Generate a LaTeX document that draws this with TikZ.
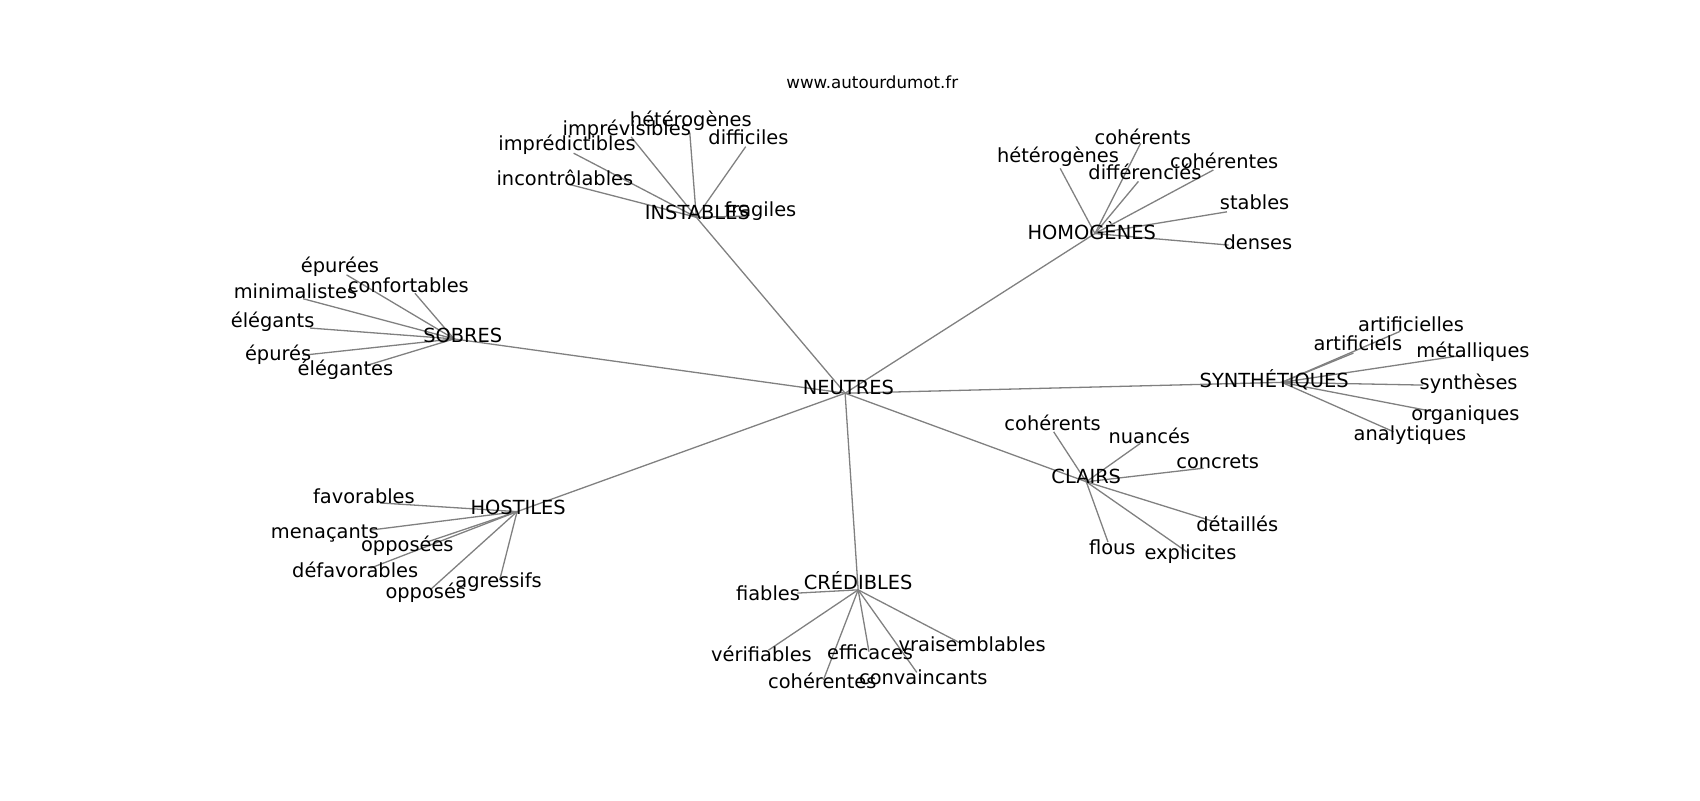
\documentclass[tikz,border=0pt]{standalone}
\usepackage{fontspec}
\setmainfont{DejaVu Sans}
\pgfdeclarelayer{bg}
\pgfsetlayers{bg,main}
\begin{document}
\begin{tikzpicture}[x=1.086pt,y=-1.086pt,
  lbl/.style={inner sep=0pt,font=\fontsize{19.4}{22}\selectfont,text height=0.78em,text depth=0.16em,text=black},
  ttl/.style={inner sep=0pt,font=\fontsize{16.7}{19}\selectfont,text=black},
  edge/.style={draw=black!50,line width=1.3pt}]
\useasboundingbox (0,0) rectangle (1565,737);
\node[ttl] (title) at (803,76) {www.autourdumot.fr};
% hubs
\node[lbl] (neu) at (781,360) {NEUTRES};
\node[lbl] (ins) at (642,199) {INSTABLES};
\node[lbl] (hom) at (1005,218) {HOMOGÈNES};
\node[lbl] (sob) at (426,312) {SOBRES};
\node[lbl] (syn) at (1173,354) {SYNTHÉTIQUES};
\node[lbl] (cla) at (1000,442) {CLAIRS};
\node[lbl] (hos) at (477,471) {HOSTILES};
\node[lbl] (cre) at (790,540) {CRÉDIBLES};
% instables
\node[lbl] (i1) at (636,114) {hétérogènes};
\node[lbl] (i2) at (577,122) {imprévisibles};
\node[lbl] (i3) at (522,136) {imprédictibles};
\node[lbl] (i4) at (689,130) {difficiles};
\node[lbl] (i5) at (520,168) {incontrôlables};
\node[lbl] (i6) at (700,196) {fragiles};
% homogenes
\node[lbl] (h1) at (1052,130) {cohérents};
\node[lbl] (h2) at (974,147) {hétérogènes};
\node[lbl] (h3) at (1054,162) {différenciés};
\node[lbl] (h4) at (1127,152) {cohérentes};
\node[lbl] (h5) at (1155,190) {stables};
\node[lbl] (h6) at (1158,227) {denses};
% sobres
\node[lbl] (s1) at (313,248) {épurées};
\node[lbl] (s2) at (376,266) {confortables};
\node[lbl] (s3) at (272,272) {minimalistes};
\node[lbl] (s4) at (251,299) {élégants};
\node[lbl] (s5) at (256,329) {épurés};
\node[lbl] (s6) at (318,343) {élégantes};
% synthetiques
\node[lbl] (y1) at (1299,302) {artificielles};
\node[lbl] (y2) at (1250,320) {artificiels};
\node[lbl] (y3) at (1356,326) {métalliques};
\node[lbl] (y4) at (1352,356) {synthèses};
\node[lbl] (y5) at (1349,384) {organiques};
\node[lbl] (y6) at (1298,403) {analytiques};
% clairs
\node[lbl] (c1) at (969,393) {cohérents};
\node[lbl] (c2) at (1058,405) {nuancés};
\node[lbl] (c3) at (1121,428) {concrets};
\node[lbl] (c4) at (1139,486) {détaillés};
\node[lbl] (c5) at (1024,508) {flous};
\node[lbl] (c6) at (1096,512) {explicites};
% hostiles
\node[lbl] (o1) at (335,461) {favorables};
\node[lbl] (o2) at (299,493) {menaçants};
\node[lbl] (o3) at (375,505) {opposées};
\node[lbl] (o4) at (327,529) {défavorables};
\node[lbl] (o5) at (392,548) {opposés};
\node[lbl] (o6) at (459,538) {agressifs};
% credibles
\node[lbl] (r1) at (707,550) {fiables};
\node[lbl] (r2) at (701,606) {vérifiables};
\node[lbl] (r3) at (801,604) {efficaces};
\node[lbl] (r4) at (895,597) {vraisemblables};
\node[lbl] (r5) at (757,631) {cohérentes};
\node[lbl] (r6) at (850,627) {convaincants};
% edges (end points: node centres shifted to where the reference lines end)
\begin{pgfonlayer}{bg}
\foreach \h/\hx/\hy in {ins/-1/1, hom/3/-3, sob/-8/0, syn/7/-2, cla/0/1.5, hos/-1/0, cre/0/3}
  \draw[edge] ([shift={(-3,2)}]neu.center) -- ([shift={(\hx,\hy)}]\h.center);
\foreach \l/\dx/\dy in {i1/-1/8, i2/4/4, i3/6/5, i4/-2.5/5, i5/5/2, i6/-12.5/3}
  \draw[edge] ([shift={(-1,1)}]ins.center) -- ([shift={(\dx,\dy)}]\l.center);
\foreach \l/\dx/\dy in {h1/-2/2, h2/2/8, h3/-6/5, h4/-10/4.5, h5/-25.5/5, h6/-27/-1.4}
  \draw[edge] ([shift={(3,-3)}]hom.center) -- ([shift={(\dx,\dy)}]\l.center);
\foreach \l/\dx/\dy in {s1/6/5, s2/6/4, s3/7/3, s4/34.5/3, s5/23/-2, s6/21/-7}
  \draw[edge] ([shift={(-8,0)}]sob.center) -- ([shift={(\dx,\dy)}]\l.center);
\foreach \l/\dx/\dy in {y1/-10/3, y2/-4/5, y3/-9/1, y4/-42/-1.5, y5/-29/-5, y6/-15/-5.5}
  \draw[edge] ([shift={(7,-2)}]syn.center) -- ([shift={(\dx,\dy)}]\l.center);
\foreach \l/\dx/\dy in {c1/1/4.5, c2/-8/3, c3/-13/3, c4/-22/-6, c5/-4/-9, c6/-2/-3}
  \draw[edge] ([shift={(0,1.5)}]cla.center) -- ([shift={(\dx,\dy)}]\l.center);
\foreach \l/\dx/\dy in {o1/15/2, o2/42/-5, o3/18/-6, o4/14/-6, o5/4/-5, o6/1/-4}
  \draw[edge] ([shift={(-1,0)}]hos.center) -- ([shift={(\dx,\dy)}]\l.center);
\foreach \l/\dx/\dy in {r1/27/-4, r2/6.5/-7.5, r3/-1/-4, r4/-11/-5, r5/1/-5, r6/-6/-8}
  \draw[edge] ([shift={(0,3)}]cre.center) -- ([shift={(\dx,\dy)}]\l.center);
\end{pgfonlayer}
\end{tikzpicture}
\end{document}
